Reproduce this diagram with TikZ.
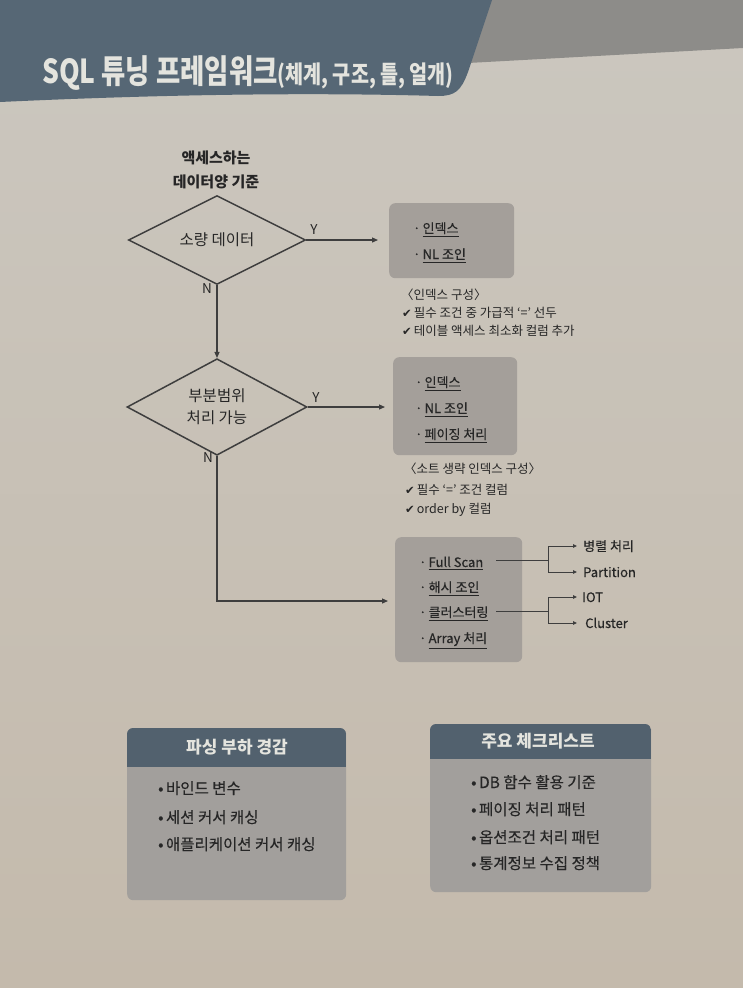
\documentclass[tikz,border=0pt]{standalone}
\usepackage{fontspec}
\setmainfont{Noto Sans CJK KR}
\newfontfamily\medfont[FakeBold=0.35]{Noto Sans CJK KR}
\newfontfamily\symfont{DejaVu Sans}
\usetikzlibrary{shapes.geometric,arrows.meta}
\definecolor{pagetop}{RGB}{203,199,191}
\definecolor{pagebot}{RGB}{196,186,172}
\definecolor{banddark}{RGB}{86,103,117}
\definecolor{bandgray}{RGB}{141,140,137}
\definecolor{titletext}{RGB}{228,228,222}
\definecolor{boxgray}{RGB}{164,159,154}
\definecolor{bodygray}{RGB}{162,159,156}
\definecolor{hdrdark}{RGB}{82,97,110}
\definecolor{ink}{RGB}{38,38,38}
\definecolor{linec}{RGB}{62,62,62}
\newcommand\ul[1]{\leavevmode\vtop{\hbox{#1}\kern2.2pt\hrule height 1.1pt}}
\newcommand\chk{{\symfont\fontsize{11.5}{12}\selectfont ✔}\,}
\tikzset{
  flowbox/.style={fill=boxgray, rounded corners=6pt, anchor=north west, inner sep=0},
  dia/.style={diamond, draw=linec, line width=1.5pt, inner sep=0, align=center,
    text=ink, font=\fontsize{15.5}{22}\selectfont},
  conn/.style={draw=linec, line width=1.2pt},
  arr/.style={conn, -{Triangle[length=6pt,width=5pt]}},
  sarr/.style={conn, line width=1pt, -{Triangle[length=4pt,width=3.5pt]}},
  item/.style={anchor=base west, inner sep=0, text=ink, font=\medfont\fontsize{13}{14}\selectfont},
  note/.style={anchor=base west, inner sep=0, text=ink, font=\fontsize{12.5}{13}\selectfont},
  yn/.style={inner sep=0, text=ink, font=\fontsize{13.5}{15}\selectfont},
  bitem/.style={anchor=base west, inner sep=0, text=ink, font=\medfont\fontsize{15.5}{16}\selectfont},
  bhead/.style={inner sep=0, text=titletext, font=\fontsize{17}{18}\selectfont\bfseries},
  flab/.style={anchor=base west, inner sep=0, text=ink, font=\medfont\fontsize{13}{14}\selectfont},
}
\begin{document}
\begin{tikzpicture}[x=1pt,y=-1pt]
\useasboundingbox (0,0) rectangle (743,988);
\shade[top color=pagetop,bottom color=pagebot] (0,0) rectangle (743,988);
% header bands
\fill[bandgray] (440,0) -- (743,0) -- (743,48) -- (468,63) -- cycle;
\fill[banddark] (0,0) -- (492,0) -- (468,72) .. controls (461,91) and (455,96) .. (438,96)
  .. controls (300,92) and (150,95) .. (0,102) -- cycle;
\node[anchor=base west, inner sep=0, text=titletext] (title) at (42,83)
  {\scalebox{0.8}[1]{\fontsize{33}{35}\selectfont\bfseries SQL 튜닝 프레임워크{\fontsize{24.5}{26}\selectfont(체계, 구조, 틀, 얼개)}}};

% criterion label
\node[align=center, inner sep=0, text=ink, font=\fontsize{15}{24}\selectfont\bfseries] (crit) at (216,170) {액세스하는\\데이터양 기준};

% diamonds
\node[dia, minimum width=177pt, minimum height=73pt] (d1) at (217,240) {소량 데이터};
\node[dia, minimum width=180pt, minimum height=74pt] (d2) at (217,407) {부분범위\\처리 가능};

% boxes
\node[flowbox, minimum width=125pt, minimum height=75pt] (b1) at (389,203) {};
\node[flowbox, minimum width=124pt, minimum height=98pt] (b2) at (393,357) {};
\node[flowbox, minimum width=127pt, minimum height=125pt] (b3) at (395,537) {};

% box items
\node[item] (b1a) at (413,233) {·\,\ul{인덱스}};
\node[item] (b1b) at (413,259) {·\,\ul{NL 조인}};
\node[item] (b2a) at (415,387) {·\,\ul{인덱스}};
\node[item] (b2b) at (415,413) {·\,\ul{NL 조인}};
\node[item] (b2c) at (415,439) {·\,\ul{페이징 처리}};
\node[item] (b3a) at (419,567) {·\,\ul{Full Scan}};
\node[item] (b3b) at (419,592) {·\,\ul{해시 조인}};
\node[item] (b3c) at (419,617) {·\,\ul{클러스터링}};
\node[item] (b3d) at (419,643) {·\,\ul{Array 처리}};

% notes
\node[note] (n1a) at (401,299) {〈인덱스 구성〉};
\node[note] (n1b) at (402,317) {\chk 필수 조건 중 가급적 ‘=’ 선두};
\node[note] (n1c) at (402,335) {\chk 테이블 액세스 최소화 컬럼 추가};
\node[note] (n2a) at (404,473) {〈소트 생략 인덱스 구성〉};
\node[note] (n2b) at (405,494) {\chk 필수 ‘=’ 조건 컬럼};
\node[note] (n2c) at (405,513) {\chk order by 컬럼};

% connectors
\coordinate (e1) at (378,240);
\coordinate (e2) at (385,407);
\coordinate (c3) at (217,601);
\coordinate (e3) at (388,601);
\draw[arr] (d1.east) -- (e1);
\draw[arr] (d1.south) -- (d2.north);
\draw[arr] (d2.east) -- (e2);
\draw[arr] (d2.south) -- (c3) -- (e3);
\node[yn] (y1) at (314,230) {Y};
\node[yn] (nn1) at (207,289) {N};
\node[yn] (y2) at (316,398) {Y};
\node[yn] (nn2) at (208,458) {N};

% forks
\node[flab] (f1a) at (583,551) {병렬 처리};
\node[flab] (f1b) at (583,577) {Partition};
\node[flab] (f2a) at (582,602) {IOT};
\node[flab] (f2b) at (585,628) {Cluster};
\coordinate (s1) at (496,560);
\coordinate (k1) at (548,560);
\coordinate (k1a) at (548,546);
\coordinate (k1b) at (548,572);
\coordinate (t1a) at (577,546);
\coordinate (t1b) at (577,572);
\coordinate (s2) at (496,611);
\coordinate (k2) at (548,611);
\coordinate (k2a) at (548,597);
\coordinate (k2b) at (548,623);
\coordinate (t2a) at (577,597);
\coordinate (t2b) at (577,623);
\draw[conn, line width=1pt] (s1) -- (k1) (k1a) -- (k1b);
\draw[sarr] (k1a) -- (t1a);
\draw[sarr] (k1b) -- (t1b);
\draw[conn, line width=1pt] (s2) -- (k2) (k2a) -- (k2b);
\draw[sarr] (k2a) -- (t2a);
\draw[sarr] (k2b) -- (t2b);

% bottom boxes
\node[fill=bodygray, rounded corners=6pt, anchor=north west, inner sep=0, minimum width=219pt, minimum height=172pt] (pb) at (127,728) {};
\begin{scope}
\clip[rounded corners=6pt] (127,728) rectangle (346,900);
\fill[hdrdark] (127,728) rectangle (346,767);
\end{scope}
\node[bhead] (pbh) at (237,747) {파싱 부하 경감};
\node[bitem] (pb1) at (158,794) {•\,바인드 변수};
\node[bitem] (pb2) at (158,823) {•\,세션 커서 캐싱};
\node[bitem] (pb3) at (158,850) {•\,애플리케이션 커서 캐싱};

\node[fill=bodygray, rounded corners=6pt, anchor=north west, inner sep=0, minimum width=221pt, minimum height=168pt] (cl) at (430,724) {};
\begin{scope}
\clip[rounded corners=6pt] (430,724) rectangle (651,892);
\fill[hdrdark] (430,724) rectangle (651,759);
\end{scope}
\node[bhead] (clh) at (538,741) {주요 체크리스트};
\node[bitem] (cl1) at (471,788) {•\,DB 함수 활용 기준};
\node[bitem] (cl2) at (471,815) {•\,페이징 처리 패턴};
\node[bitem] (cl3) at (471,843) {•\,옵션조건 처리 패턴};
\node[bitem] (cl4) at (471,869) {•\,통계정보 수집 정책};
\end{tikzpicture}
\end{document}
